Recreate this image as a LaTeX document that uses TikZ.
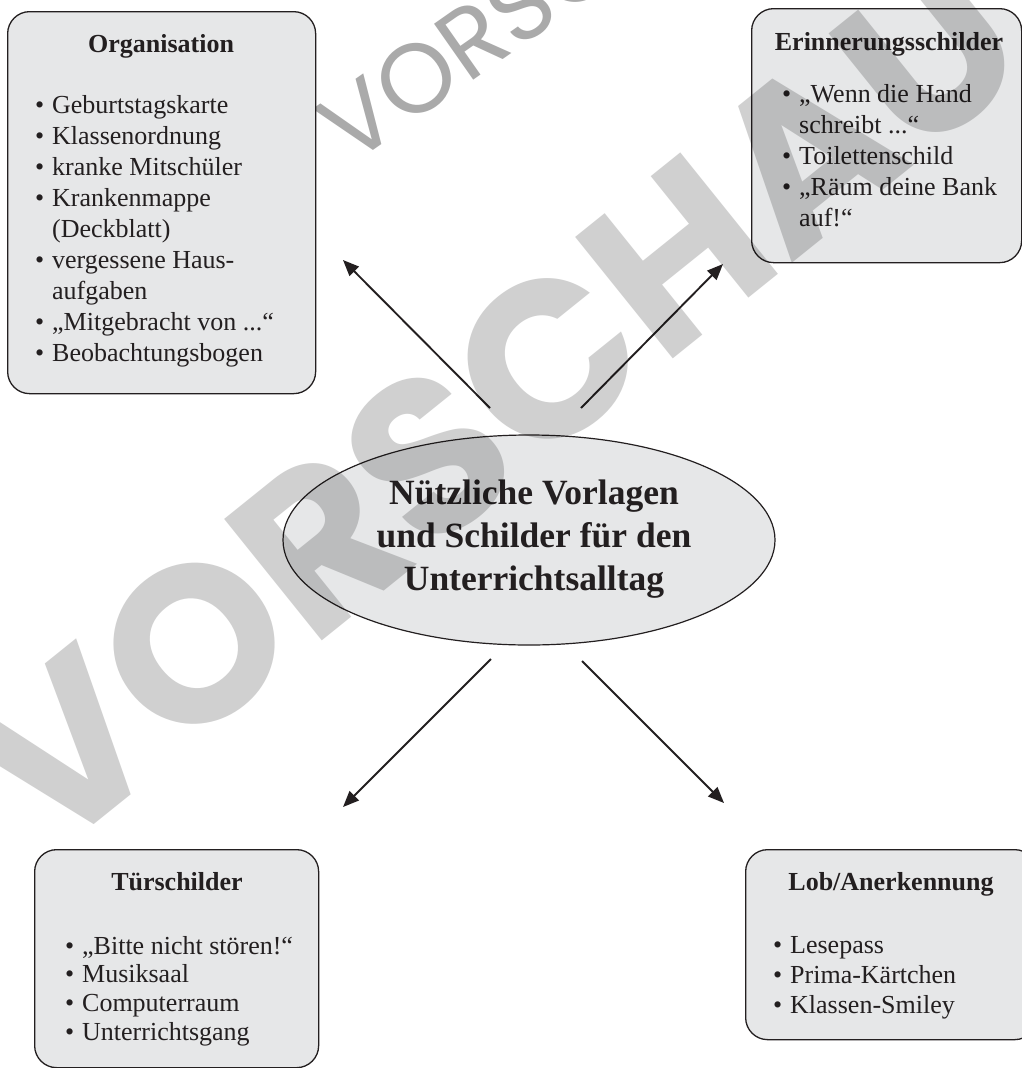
\documentclass[tikz,border=0pt]{standalone}
\usepackage{fontspec}
\setmainfont{Liberation Serif}
\newfontfamily\wmfont{Poppins}
\usetikzlibrary{arrows.meta,shapes.geometric}
\definecolor{boxfill}{RGB}{230,231,232}
\definecolor{wmgray}{RGB}{208,208,208}
\definecolor{wmgraydark}{RGB}{170,170,170}
\definecolor{ink}{RGB}{35,31,32}
\newcommand{\bul}{\makebox[17pt][l]{\textbullet}}
\newcommand{\contline}{\hspace*{17pt}}
\begin{document}
\begin{tikzpicture}[x=1pt,y=-1pt,
  panel/.style={draw=ink, line width=1.3pt, fill=boxfill, rounded corners=22pt, inner sep=0pt, anchor=north west},
  ttl/.style={font=\fontsize{26}{31}\selectfont\bfseries, text=ink, anchor=base, inner sep=0pt},
  lst/.style={anchor=base west, text=ink, inner sep=0pt},
  conn/.style={line width=1.9pt, ink, -{Triangle[length=16pt,width=13pt]}},
  wmbig/.style={font=\wmfont\bfseries\fontsize{222}{222}\selectfont, text=wmgray, inner sep=0pt},
  wmsmall/.style={font=\wmfont\fontsize{98}{98}\selectfont, text=wmgraydark, inner sep=0pt},
]
\useasboundingbox (0,0) rectangle (1022,1068);
\fill[white] (0,0) rectangle (1022,1068);

% small watermark at top
\node[wmsmall, rotate=35] (wmtop) at (550,-15) {VORSCHAU};

% boxes
\node[panel, minimum width=308pt, minimum height=382pt] (org) at (7,11) {};
\node[panel, minimum width=270pt, minimum height=254pt] (erin) at (751,8) {};
\node[panel, minimum width=284pt, minimum height=218pt] (tuer) at (34,849) {};
\node[panel, minimum width=291pt, minimum height=190pt] (lob) at (745,849) {};

% titles
\node[ttl] (orgt) at (161,52) {Organisation};
\node[ttl] (erint) at (889,50) {Erinnerungsschilder};
\node[ttl] (tuert) at (177,890) {Türschilder};
\node[ttl] (lobt) at (891,890) {Lob/Anerkennung};

% lists
\node[lst] (orgl) at (35,113) {\parbox[t]{280pt}{\fontsize{26}{31.1}\selectfont\raggedright
\bul Geburtstagskarte\\
\bul Klassenordnung\\
\bul kranke Mitschüler\\
\bul Krankenmappe\\
\contline (Deckblatt)\\
\bul vergessene Haus-\\
\contline aufgaben\\
\bul „Mitgebracht von ...“\\
\bul Beobachtungsbogen}};

\node[lst] (erinl) at (782,102) {\parbox[t]{240pt}{\fontsize{26}{31.2}\selectfont\raggedright
\bul „Wenn die Hand\\
\contline schreibt ...“\\
\bul Toilettenschild\\
\bul „Räum deine Bank\\
\contline auf!“}};

\node[lst] (tuerl) at (65,954) {\parbox[t]{250pt}{\fontsize{26}{28.7}\selectfont\raggedright
\bul „Bitte nicht stören!“\\
\bul Musiksaal\\
\bul Computerraum\\
\bul Unterrichtsgang}};

\node[lst] (lobl) at (773,953) {\parbox[t]{240pt}{\fontsize{26}{30}\selectfont\raggedright
\bul Lesepass\\
\bul Prima-Kärtchen\\
\bul Klassen-Smiley}};

% central ellipse
\node[ellipse, draw=ink, line width=1.2pt, fill=boxfill, minimum width=492pt, minimum height=210pt, inner sep=0pt] (ell) at (529,540) {};
\node[anchor=base, text=ink, inner sep=0pt] (ellt) at (534,504) {\parbox[t]{420pt}{\centering\fontsize{35.5}{43}\selectfont\bfseries
Nützliche Vorlagen\\
und Schilder für den\\
Unterrichtsalltag}};

% connectors
\coordinate (a1s) at (490,408); \coordinate (a1e) at (343,260);
\coordinate (a2s) at (581,408); \coordinate (a2e) at (723,264);
\coordinate (a3s) at (491,659); \coordinate (a3e) at (343,807);
\coordinate (a4s) at (582,661); \coordinate (a4e) at (724,803);
\draw[conn] (a1s) -- (a1e);
\draw[conn] (a2s) -- (a2e);
\draw[conn] (a3s) -- (a3e);
\draw[conn] (a4s) -- (a4e);

% big watermark
\begin{scope}[blend mode=multiply]
\node[wmbig, rotate=38.8] (wm) at (495,402) {VORSCHAU};
\end{scope}
\end{tikzpicture}
\end{document}
